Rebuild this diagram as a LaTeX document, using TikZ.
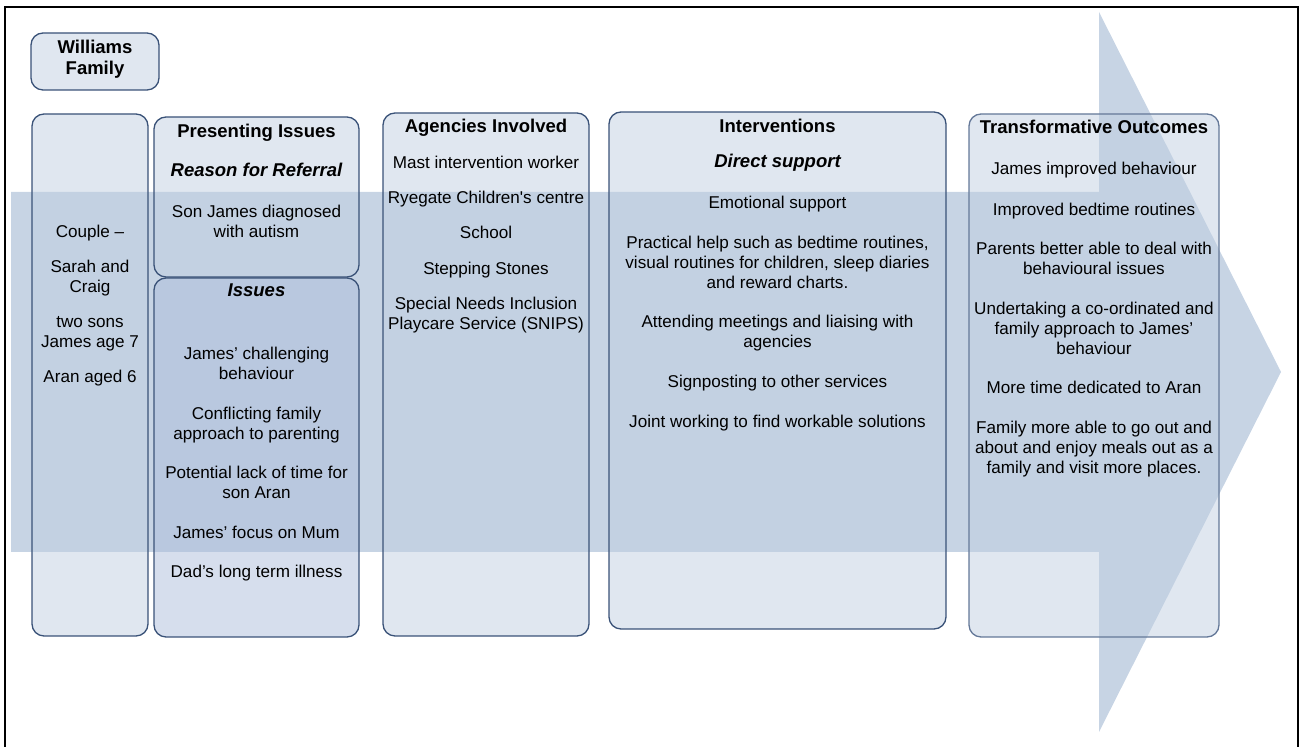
\documentclass[tikz,border=0pt]{standalone}
\usepackage{fontspec}
\setmainfont{Liberation Sans}
\usepackage{tikz}
\usetikzlibrary{positioning}
\definecolor{arrowblue}{RGB}{199,212,228}
\definecolor{boxblue}{RGB}{193,207,225}
\definecolor{issueblue}{RGB}{173,190,219}
\definecolor{boxline}{RGB}{58,82,120}
\definecolor{outcomeline}{RGB}{100,120,152}

\begin{document}
\begin{tikzpicture}[x=0.5pt, y=-0.5pt,
  colbox/.style={draw=boxline, line width=0.65pt, rounded corners=6pt, fill=boxblue, fill opacity=0.5},
  body/.style={font=\fontsize{8.55}{10}\selectfont, anchor=base, inner sep=0pt},
  head/.style={font=\fontsize{9.25}{11}\selectfont\bfseries, anchor=base, inner sep=0pt},
  subhead/.style={head, font=\fontsize{9.25}{11}\selectfont\bfseries\itshape}]
  \useasboundingbox (0,0) rectangle (1303,747);
  % frame
  \draw[line width=1.35pt] (5,760) -- (5,7) -- (1298,7) -- (1298,760);
  % big arrow behind the columns
  \fill[arrowblue] (11,192) -- (1099,192) -- (1099,12) -- (1281,372) -- (1099,732) -- (1099,552) -- (11,552) -- cycle;
  % columns
  \path[colbox] (31,33) rectangle (159,90);
  \path[colbox] (32,114) rectangle (148,636);
  \path[colbox] (154,117) rectangle (359,277);
  \path[colbox, fill=issueblue] (154,278) rectangle (359,637);
  \path[colbox] (383,113) rectangle (589,636);
  \path[colbox] (609,112) rectangle (946,629);
  \path[colbox, draw=outcomeline] (969,114) rectangle (1219,637);
  % Labels
  \node[head] (fam1) at (95,54) {Williams};
  \node[head] (fam2) at (95,75) {Family};
  \foreach \y/\t [count=\i] in {237.5/{Couple –}, 272.5/{Sarah and}, 292.5/{Craig},
      327.5/{two sons}, 347.5/{James age 7}, 382.5/{Aran aged 6}}
    \node[body] (who\i) at (90,\y) {\t};
  \node[head] (pres) at (256.5,138) {Presenting Issues};
  \node[subhead] (reason) at (256.5,177) {Reason for Referral};
  \node[body] (pres1) at (256.5,217.5) {Son James diagnosed};
  \node[body] (pres2) at (256.5,237.5) {with autism};
  \node[subhead] (iss) at (256.5,297) {Issues};
  \foreach \y/\t [count=\i] in {359.5/{James’ challenging}, 379.5/{behaviour},
      419.5/{Conflicting family}, 439.5/{approach to parenting},
      478.5/{Potential lack of time for}, 498.5/{son Aran},
      538.5/{James’ focus on Mum}, 577.5/{Dad’s long term illness}}
    \node[body] (iss\i) at (256.5,\y) {\t};
  \node[head] (agen) at (486,133) {Agencies Involved};
  \foreach \y/\t [count=\i] in {168.5/{Mast intervention worker},
      203.5/{Ryegate Children\textquotesingle s centre}, 238.5/{School},
      274.5/{Stepping Stones}, 309.5/{Special Needs Inclusion},
      329.5/{Playcare Service (SNIPS)}}
    \node[body] (agen\i) at (486,\y) {\t};
  \node[head] (inter) at (777.5,133) {Interventions};
  \node[subhead] (direct) at (777.5,168) {Direct support};
  \foreach \y/\t [count=\i] in {208.5/{Emotional support},
      248.5/{Practical help such as bedtime routines,},
      268.5/{visual routines for children, sleep diaries},
      288.5/{and reward charts.},
      327.5/{Attending meetings and liaising with}, 347.5/{agencies},
      387.5/{Signposting to other services},
      427.5/{Joint working to find workable solutions}}
    \node[body] (inter\i) at (777.5,\y) {\t};
  \node[head] (outc) at (1094,134) {Transformative Outcomes};
  \foreach \y/\t [count=\i] in {174.5/{James improved behaviour},
      215.5/{Improved bedtime routines},
      254.5/{Parents better able to deal with}, 274.5/{behavioural issues},
      314.5/{Undertaking a co-ordinated and}, 334.5/{family approach to James’},
      354.5/{behaviour}, 393.5/{More time dedicated to Aran},
      433.5/{Family more able to go out and},
      453.5/{about and enjoy meals out as a},
      473.5/{family and visit more places.}}
    \node[body] (outc\i) at (1094,\y) {\t};
\end{tikzpicture}
\end{document}
